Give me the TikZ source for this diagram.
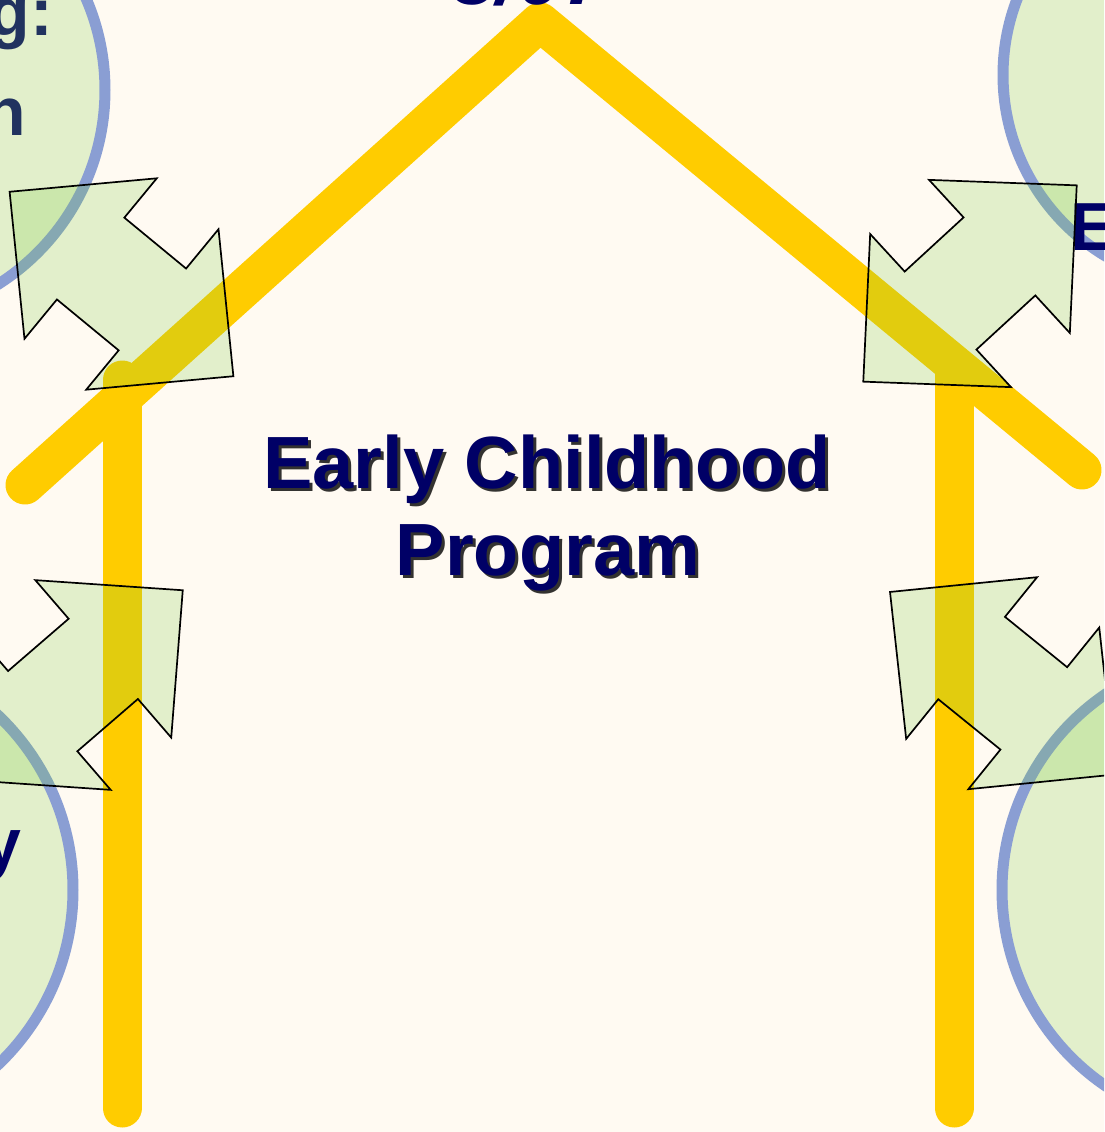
\documentclass[tikz,border=0pt]{standalone}
\usepackage{fontspec}
\setmainfont{Liberation Sans}
\definecolor{cream}{RGB}{255,250,242}
\definecolor{roofyellow}{RGB}{255,204,0}
\definecolor{leafgreen}{RGB}{123,204,65}
\definecolor{ringblue}{RGB}{138,158,211}
\definecolor{navy}{RGB}{0,0,102}
\definecolor{slate}{RGB}{33,50,95}
\tikzset{
  ring/.style={draw=ringblue, line width=11pt, fill=leafgreen, fill opacity=0.22, draw opacity=1},
  beam/.style={draw=roofyellow, line width=39pt, line cap=round, line join=round},
  linkarrow/.style={draw=black, line width=1.7pt, fill=leafgreen, fill opacity=0.22, line join=miter},
  title/.style={font=\fontsize{74}{87}\selectfont\bfseries, text=navy, inner sep=0pt},
  titleshadow/.style={title, text=black, text opacity=0.8},
  circletext/.style={font=\fontsize{68}{80}\selectfont\bfseries, inner sep=0pt}
}
% double headed arrow between two circles, centre and angle
\newcommand\linkarrow[2]{%
  \draw[linkarrow, shift={#1}, rotate=#2] (145,0) -- (40,104) -- (40,53) -- (-40,53) -- (-40,104)
    -- (-145,0) -- (-40,-104) -- (-40,-53) -- (40,-53) -- (40,-104) -- cycle;}
\begin{document}
\begin{tikzpicture}[x=1pt, y=-1pt]
  \useasboundingbox (0,0) rectangle (1104,1132);
  \clip (0,0) rectangle (1104,1132);
  \fill[cream] (0,0) rectangle (1104,1132);
  % circles
  \draw[ring] (-125,90) circle[radius=230];
  \draw[ring] (-168,890) circle[radius=241];
  \draw[ring] (1214,75) circle[radius=211];
  \draw[ring] (1239,890) circle[radius=237];
  \node[circletext, text=slate, anchor=base east] (trainA) at (53,36) {g:};
  \node[circletext, text=slate, anchor=base east] (trainB) at (26,135) {h};
  \node[circletext, text=navy, anchor=base east] (familyA) at (22,866) {y};
  \node[circletext, text=navy, anchor=base west] (schoolA) at (1070,250) {E};
  % house
  \draw[beam] (25,485) -- (540,22) -- (1082,470);
  \draw[beam] (122,380) -- (122,1108);
  \draw[beam] (954,372) -- (954,1108);
  % arrows
  \linkarrow{(121.5,284)}{-39.5}
  \linkarrow{(970,283.5)}{42.6}
  \linkarrow{(73,685)}{40.8}
  \linkarrow{(1002.7,683.2)}{-39}
  % texts
  \node[title, font=\fontsize{80}{90}\selectfont\bfseries\itshape, anchor=base] (date) at (530,5) {3/07};
  \node[titleshadow, anchor=base] at (550,491) {Early Childhood};
  \node[titleshadow, anchor=base] at (551,578) {Program};
  \node[title, anchor=base] (title) at (547,488) {Early Childhood};
  \node[title, anchor=base] (titleb) at (548,575) {Program};
\end{tikzpicture}
\end{document}
